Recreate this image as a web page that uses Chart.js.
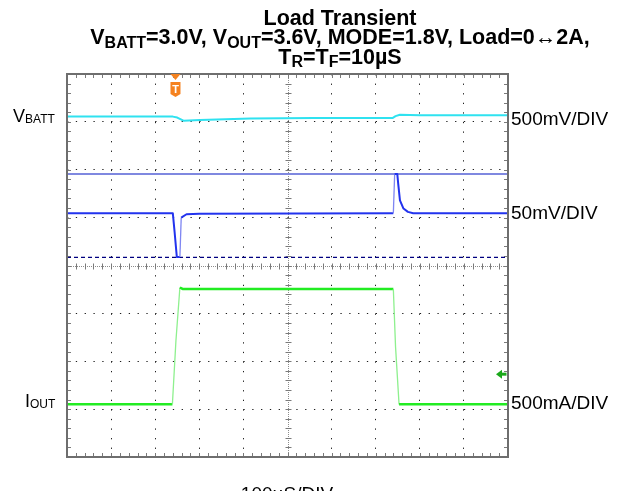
<!DOCTYPE html>
<html>
<head>
<meta charset="utf-8">
<script src="https://cdn.jsdelivr.net/npm/chart.js@4/dist/chart.umd.min.js"></script>
<style>
  body { margin: 0; background: #fff; }
  #wrap { position: relative; width: 617px; height: 491px; overflow: hidden; font-family: "Liberation Sans", Arial, sans-serif; }
  #scope { position: absolute; left: 0; top: 0; }
  .lbl { position: absolute; white-space: nowrap; color: #000; font-size: 19px; line-height: 19px; }
  .lbl sub { font-size: 12px; line-height: 0; vertical-align: baseline; position: relative; top: 1px; }
  #title { position: absolute; left: 340px; top: 8.5px; transform: translateX(-50%); text-align: center; white-space: nowrap;
           font-weight: bold; font-size: 21.5px; line-height: 19.5px; color: #000; }
  #title sub { font-size: 16px; line-height: 0; vertical-align: baseline; position: relative; top: 3.5px; }
</style>
</head>
<body>
<div id="wrap">
  <canvas id="scope" width="617" height="491"></canvas>
  <div id="title">Load Transient<br>V<sub>BATT</sub>=3.0V, V<sub>OUT</sub>=3.6V, MODE=1.8V, Load=0↔2A,<br>T<sub>R</sub>=T<sub>F</sub>=10µS</div>
  <div class="lbl" style="left:13px; top:107px; font-size:18px; line-height:18px;">V<sub>BATT</sub></div>
  <div class="lbl" style="left:25px; top:392px; font-size:18px; line-height:18px;">I<sub>OUT</sub></div>
  <div class="lbl" style="left:511px; top:109px;">500mV/DIV</div>
  <div class="lbl" style="left:511px; top:203px;">50mV/DIV</div>
  <div class="lbl" style="left:511px; top:393px;">500mA/DIV</div>
  <div class="lbl" style="left:287px; top:484px; transform: translateX(-50%);">100µS/DIV</div>
</div>
<script>
// time in µs (100µs/DIV, 10 DIV), levels in screen divisions (0 = bottom, 8 = top)
const timeVbatt = [0, 240, 250, 264, 302, 416, 560, 738, 745, 755, 800, 1000];
const vbatt     = [7.11, 7.11, 7.09, 7.025, 7.04, 7.07, 7.08, 7.08, 7.12, 7.15, 7.14, 7.14];

const timeVout = [0, 240, 244, 249, 256, 259, 271, 300, 740, 743, 749, 751, 755, 763, 773, 785, 1000];
const vout     = [5.09, 5.09, 4.7, 4.18, 4.18, 5.0, 5.07, 5.08, 5.09, 5.91, 5.91, 5.71, 5.36, 5.19, 5.12, 5.09, 5.09];

const timeIout = [0, 239, 247, 256, 262, 740, 745, 753, 1000];
const iout     = [1.1, 1.1, 2.43, 3.54, 3.51, 3.51, 2.3, 1.1, 1.1];

const refTime  = [0, 1000];
const voutRef  = [5.91, 5.91];   // upper cursor line
const voutLow  = [4.17, 4.17];   // dashed lower cursor

const triggerTime = 246;
const ioutGroundLevel = 1.73;

const pts = (xs, ys) => xs.map((t, i) => ({ x: t, y: ys[i] }));

const hideCenter = (val, c) => (val === c ? 'rgba(0,0,0,0)' : '#1e1e1e');

// fast edges look thinner / paler on the scope
const steep = (ctx) => Math.abs(ctx.p1.parsed.y - ctx.p0.parsed.y) / Math.max(ctx.p1.parsed.x - ctx.p0.parsed.x, 0.01) > 0.12;
const edgeStyle = (normal, pale) => ({
  borderColor: (ctx) => (steep(ctx) ? pale : normal),
  borderWidth: (ctx) => (steep(ctx) ? 1.3 : undefined)
});

const scopeDecor = {
  id: 'scopeDecor',
  beforeDatasetsDraw(chart) {
    const { ctx, chartArea: a, scales: { x, y } } = chart;
    const line = (x1, y1, x2, y2) => { ctx.beginPath(); ctx.moveTo(x1, y1); ctx.lineTo(x2, y2); ctx.stroke(); };
    ctx.save();
    const cx = Math.round(x.getPixelForValue(500)) + 0.5;
    const cy = Math.round(y.getPixelForValue(4)) + 0.5;
    ctx.strokeStyle = '#8c8c8c';
    ctx.lineWidth = 1;
    ctx.setLineDash([1, 1]);
    line(cx, a.top, cx, a.bottom);
    line(a.left, cy, a.right, cy);
    ctx.setLineDash([]);
    ctx.strokeStyle = '#7a7a7a';
    for (let t = 0; t <= 1000; t += 20) {
      const px = Math.round(x.getPixelForValue(t)) + 0.5;
      line(px, cy - 3, px, cy + 3);
      line(px, a.top, px, a.top + 4);
      line(px, a.bottom - 4, px, a.bottom);
    }
    for (let d = 0; d <= 8.001; d += 0.2) {
      const py = Math.round(y.getPixelForValue(d)) + 0.5;
      line(cx - 3, py, cx + 3, py);
      line(a.left, py, a.left + 4, py);
      line(a.right - 4, py, a.right, py);
    }
    ctx.restore();
  },
  afterDatasetsDraw(chart) {
    const { ctx, chartArea: a, scales: { x, y } } = chart;
    ctx.save();
    ctx.strokeStyle = '#6e6e6e';
    ctx.lineWidth = 2;
    ctx.strokeRect(a.left, a.top, a.right - a.left, a.bottom - a.top);

    // trigger marker
    const tx = x.getPixelForValue(triggerTime);
    ctx.fillStyle = '#f5821f';
    ctx.beginPath();
    ctx.moveTo(tx - 5, a.top);
    ctx.lineTo(tx + 5, a.top);
    ctx.lineTo(tx, a.top + 6);
    ctx.closePath();
    ctx.fill();
    ctx.beginPath();
    ctx.moveTo(tx - 5, a.top + 8);
    ctx.lineTo(tx + 5, a.top + 8);
    ctx.lineTo(tx + 5, a.top + 20);
    ctx.lineTo(tx, a.top + 23);
    ctx.lineTo(tx - 5, a.top + 20);
    ctx.closePath();
    ctx.fill();
    ctx.fillStyle = '#fff';
    ctx.font = 'bold 11px "Liberation Sans", Arial, sans-serif';
    ctx.textAlign = 'center';
    ctx.textBaseline = 'middle';
    ctx.fillText('T', tx, a.top + 15.5);

    // IOUT ground marker
    const gy = y.getPixelForValue(ioutGroundLevel);
    ctx.fillStyle = '#1aa81a';
    ctx.beginPath();
    ctx.moveTo(a.right - 12, gy);
    ctx.lineTo(a.right - 6, gy - 4.5);
    ctx.lineTo(a.right - 6, gy + 4.5);
    ctx.closePath();
    ctx.fill();
    ctx.fillRect(a.right - 6.5, gy - 1.5, 5, 3);
    ctx.restore();
  }
};

new Chart(document.getElementById('scope'), {
  type: 'line',
  data: {
    datasets: [
      { data: pts(timeVbatt, vbatt), borderColor: '#2fe2f0', borderWidth: 2, order: 1 },
      { data: pts(timeVout, vout), borderColor: '#2233ee', borderWidth: 2, order: 2,
        segment: edgeStyle('#2233ee', '#7f86f2') },
      { data: pts(timeIout, iout), borderColor: '#22ec22', borderWidth: 2.5, order: 3,
        segment: edgeStyle('#22ec22', '#8ef08e') },
      { data: pts(refTime, voutRef), borderColor: '#7f88e0', borderWidth: 2, order: 4 },
      { data: pts(refTime, voutLow), borderColor: '#000080', borderWidth: 1.2, borderDash: [4, 3], order: 5 }
    ]
  },
  options: {
    responsive: false,
    animation: false,
    events: [],
    layout: { padding: { left: 67, top: 74, right: 109, bottom: 34 } },
    elements: { point: { radius: 0 }, line: { tension: 0, borderJoinStyle: 'round' } },
    plugins: { legend: { display: false }, tooltip: { enabled: false } },
    scales: {
      x: {
        type: 'linear', min: 0, max: 1000,
        ticks: { display: false, stepSize: 100 },
        border: { display: false, dash: [1.3, 8.28] },
        grid: { drawTicks: false, lineWidth: 1,
                color: (c) => hideCenter(c.tick && c.tick.value, 500) }
      },
      y: {
        type: 'linear', min: 0, max: 8,
        ticks: { display: false, stepSize: 1 },
        border: { display: false, dash: [1.3, 7.52] },
        grid: { drawTicks: false, lineWidth: 1,
                color: (c) => hideCenter(c.tick && c.tick.value, 4) }
      }
    }
  },
  plugins: [scopeDecor]
});
</script>
</body>
</html>
